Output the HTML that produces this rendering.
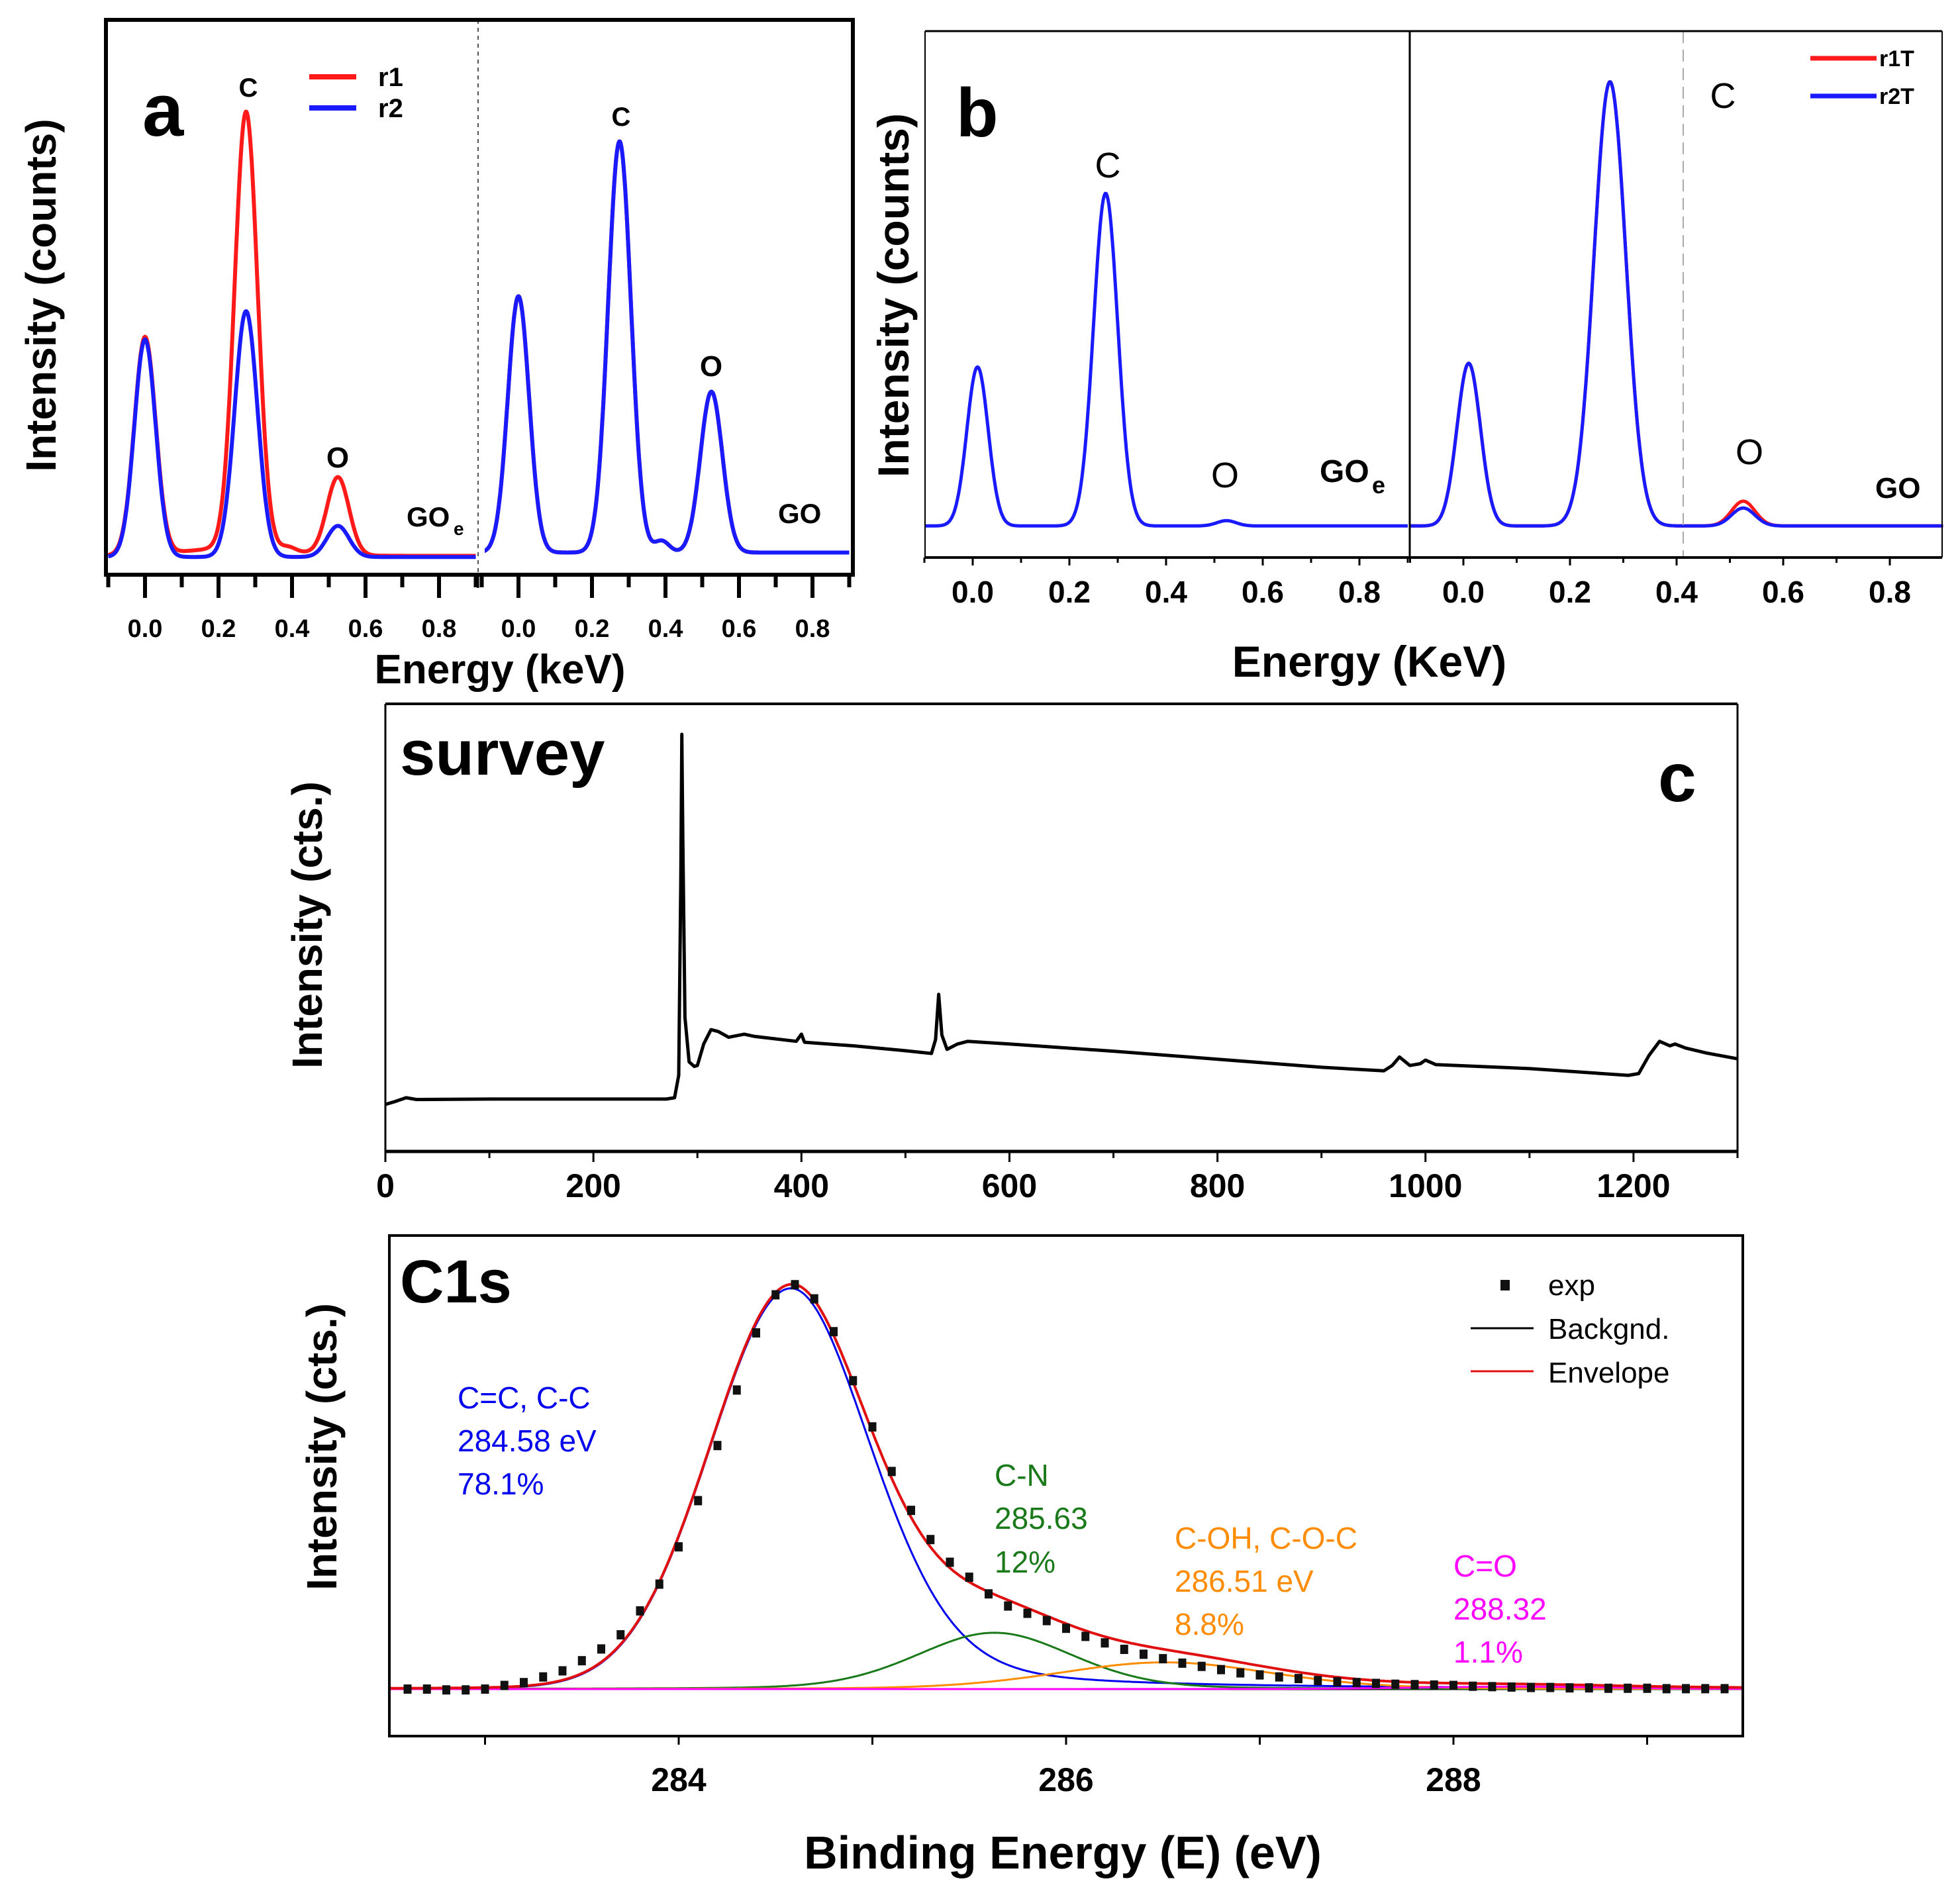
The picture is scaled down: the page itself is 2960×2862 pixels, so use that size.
<!DOCTYPE html>
<html><head><meta charset="utf-8"><style>
html,body{margin:0;padding:0;background:#fff;}
svg{display:block;font-family:"Liberation Sans",Arial,sans-serif;}
</style></head><body>
<svg id="fig" width="2960" height="2862" viewBox="0 0 2960 2862">
<rect width="2960" height="2862" fill="#fff"/>
</svg>
<script>
// ---------- Panel a data (EDS, keV) ----------
var aCenters = [0.0, 0.275, 0.39, 0.525];
var aLeftRed = [392, 787, 8, 140];
var aLeftBlue = [392, 443, 0, 56];
var aLeftRedBg = 14;
var aRightRed = [462, 741, 21, 290];
var aRightBlue = [462, 741, 21, 290];
var aSigmas = [0.029, 0.031, 0.02, 0.03];
var aTicks = ["0.0","0.2","0.4","0.6","0.8"];
// ---------- Panel b data ----------
var bCenters = [0.01, 0.275, 0.525];
var bLeftBlue = [302, 632, 10];
var bRightRed = [309, 844, 47];
var bRightBlue = [309, 844, 34];
var bSigmasL = [0.022, 0.025, 0.02];
var bSigmasR = [0.022, 0.03, 0.022];
// ---------- Panel c data (XPS survey) ----------
var cEnergy = [0,10,20,30,100,200,270,278,282,284,285,286,288,292,297,300,306,313,320,330,345,355,395,400,403,450,500,525,529,532,535,540,550,560,600,700,800,900,960,968,975,985,995,1000,1010,1100,1195,1205,1215,1225,1235,1240,1250,1270,1300];
var cCounts = [105,112,120,116,117,117,117,120,170,600,932,700,300,200,190,192,240,272,268,255,262,257,246,262,244,236,225,219,250,351,260,228,240,246,240,224,206,188,180,192,211,192,196,204,194,185,170,174,215,246,236,240,231,220,207];
var cTicks = [0,200,400,600,800,1000,1200];
// ---------- Panel d data (C1s) ----------
var dExpStart = 282.6, dExpStep = 0.1;
var dExp = [0,0,-0.2,-0.2,0,0.9,1.6,3.0,4.5,7.0,9.9,13.4,19.3,25.9,35.1,46.5,60.1,73.8,87.9,97.3,99.8,96.3,88.2,76.1,64.7,53.7,44.1,36.9,31.3,27.6,23.5,20.5,18.7,16.9,15.0,13.0,11.4,9.8,8.6,7.5,6.4,5.6,4.8,4.0,3.5,3.0,2.6,2.1,1.8,1.6,1.4,1.2,1.1,1.0,0.9,0.7,0.6,0.5,0.4,0.4,0.3,0.3,0.2,0.2,0.2,0.1,0.1,0.1,0.1];
var dCompCenters = [284.58, 285.63, 286.51, 288.32];
var dCompHeights = [98.9, 13.9, 6.6, 0.6];
var dCompFwhm = [0.98, 0.95, 1.3, 1.2];
var dCompColors = ["#0000ee","#1a7a1a","#ff8c00","#ff00ff"];
var dTicks = [284,286,288];

var NS="http://www.w3.org/2000/svg";
var svg=document.getElementById('fig');
function mk(tag,attrs,parent){var e=document.createElementNS(NS,tag);for(var k in attrs)e.setAttribute(k,attrs[k]);(parent||svg).appendChild(e);return e;}
function txt(s,x,y,size,opts,name){opts=opts||{};var a={x:x,y:y,'font-size':size,'font-weight':opts.w||'bold',fill:opts.fill||'#000','text-anchor':opts.anchor||'start'};if(opts.rot)a.transform='rotate(-90 '+x+' '+y+')';var t=mk('text',a);t.textContent=s;


return t;}
function line(x1,y1,x2,y2,w,col,name,dash){var l=mk('line',{x1:x1,y1:y1,x2:x2,y2:y2,stroke:col||'#000','stroke-width':w});if(dash)l.setAttribute('stroke-dasharray',dash);


return l;}
function gsum(x,c,h,s){var v=0;for(var i=0;i<c.length;i++){v+=h[i]*Math.exp(-0.5*Math.pow((x-c[i])/s[i],2));}return v;}
function peakPath(xs,ys,base,c,h,s,extra,col,w,name){var d='';for(var e=-0.1;e<=0.9001;e+=0.002){var v=base+gsum(e,c,h,s)+(extra?extra(e):0);d+=(d?'L':'M')+xs(e).toFixed(1)+','+ys(v).toFixed(1);}var p=mk('path',{d:d,fill:'none',stroke:col,'stroke-width':w,'stroke-linejoin':'round'});


return p;}

// ================= Panel a =================
(function(){
var L=160,R=1288,T=30,B=868,mid=722;
function ys(v){return 868-v*0.838;}
function xsL(e){return 219+e*555;}
function xsR(e){return 783+e*555;}
var bg=function(e){return aLeftRedBg*Math.exp(-0.5*Math.pow((e-0.25)/0.14,2));};
peakPath(xsL,ys,34,aCenters,aLeftRed,aSigmas,bg,'#ff1a1a',6,'a-left-r1-line');
peakPath(xsL,ys,32,aCenters,aLeftBlue,aSigmas,null,'#1a1aff',6,'a-left-r2-line');
peakPath(xsR,ys,40,aCenters,aRightRed,aSigmas,null,'#ff1a1a',6,'a-right-r1-line');
peakPath(xsR,ys,40,aCenters,aRightBlue,aSigmas,null,'#1a1aff',6,'a-right-r2-line');
mk('rect',{x:mid,y:T,width:10,height:B-T,fill:'#fff'});
line(mid,T,mid,B,2,'#555','a-divider','6,6');
var f=mk('rect',{x:L,y:T,width:R-L,height:B-T,fill:'none',stroke:'#000','stroke-width':6});

[xsL,xsR].forEach(function(xs,k){
 for(var i=-1;i<=9;i++){var e=i/10;var x=xs(e);if(x<L||x>R)continue;line(x,B,x,B+(i%2===0?35:19),6,'#000','a-tick');}
 aTicks.forEach(function(t){txt(t,xs(parseFloat(t)),962,38,{anchor:'middle'},'a-tick-label');});
});
line(mid,B,mid,B+20,3,'#000','a-split-tick');
txt('Intensity (counts)',84,446,64,{anchor:'middle',rot:1},'a-y-axis-title');
txt('Energy (keV)',755,1032,62,{anchor:'middle'},'a-x-axis-title');
txt('a',215,205,112,{},'a-panel-label');
txt('C',375,146,40,{anchor:'middle'},'a-label-c-left');
txt('O',510,706,44,{anchor:'middle'},'a-label-o-left');
txt('C',938,190,40,{anchor:'middle'},'a-label-c-right');
txt('O',1074,568,44,{anchor:'middle'},'a-label-o-right');
txt('GO',614,795,42,{},'a-label-goe');txt('e',685,808,28,{},'a-label-goe-sub');
txt('GO',1175,790,42,{},'a-label-go');
line(467,116,538,116,8,'#ff1a1a','legend-r1-line');txt('r1',571,130,40,{},'legend-r1-label');
line(467,163,538,163,8,'#1a1aff','legend-r2-line');txt('r2',571,177,40,{},'legend-r2-label');
})();

// ================= Panel b =================
(function(){
var L=1397,R=2933,T=47,B=842,mid=2129;
function ys(v){return 842-v*0.795;}
function xsL(e){return 1469+e*730;}
function xsR(e){return 2210+e*805;}
peakPath(xsL,ys,60,bCenters,bLeftBlue,bSigmasL,null,'#1a1aff',5,'b-left-r2t-line');
peakPath(xsR,ys,60,bCenters,bRightRed,bSigmasR,null,'#ff1a1a',5,'b-right-r1t-line');
peakPath(xsR,ys,60,bCenters,bRightBlue,bSigmasR,null,'#1a1aff',5,'b-right-r2t-line');
line(2542,T,2542,B,2,'#aaa','b-dashed-line','18,10');
line(L,T,R,T,3,'#000','b-frame-top');
line(L,T,L,B,2,'#000','b-frame-left');
line(R,T,R,B,2,'#000','b-frame-right');
line(mid,T,mid,B,3,'#000','b-divider');
line(L,B,R,B,4,'#000','b-x-axis');
[[xsL,L,mid],[xsR,mid,R]].forEach(function(p){
 var xs=p[0];
 for(var i=-1;i<=9;i++){var x=xs(i/10);if(x<p[1]-1||x>p[2]+1)continue;line(x,B,x,B+(i%2===0?12:8),3,'#000','b-tick');}
 aTicks.forEach(function(t){txt(t,xs(parseFloat(t)),910,46,{anchor:'middle'},'b-tick-label');});
});
txt('Intensity (counts)',1372,446,66,{anchor:'middle',rot:1},'b-y-axis-title');
txt('Energy (KeV)',2068,1022,66,{anchor:'middle'},'b-x-axis-title');
txt('b',1444,206,104,{},'b-panel-label');
txt('C',1673,268,54,{anchor:'middle',w:'normal'},'b-label-c-left');
txt('O',1850,736,54,{anchor:'middle',w:'normal'},'b-label-o-left');
txt('GO',1993,728,48,{},'b-label-goe');txt('e',2072,745,36,{},'b-label-goe-sub');
txt('C',2602,163,54,{anchor:'middle',w:'normal'},'b-label-c-right');
txt('O',2642,701,54,{anchor:'middle',w:'normal'},'b-label-o-right');
txt('GO',2832,752,44,{},'b-label-go');
line(2734,88,2834,88,7,'#ff1a1a','legend-r1t-line');txt('r1T',2838,100,34,{},'legend-r1t-label');
line(2734,145,2834,145,7,'#1a1aff','legend-r2t-line');txt('r2T',2838,157,34,{},'legend-r2t-label');
})();

// ================= Panel c =================
(function(){
var L=582,R=2624,T=1063,B=1739;
function xs(e){return L+e*(R-L)/1300;}
function ys(v){return B-v*0.676;}
var d='';for(var i=0;i<cEnergy.length;i++){d+=(i?'L':'M')+xs(cEnergy[i]).toFixed(1)+','+ys(cCounts[i]).toFixed(1);}
var p=mk('path',{d:d,fill:'none',stroke:'#000','stroke-width':5,'stroke-linejoin':'round'});

line(L,T,L,B,3,'#000','c-frame-left');line(R,T,R,B,3,'#000','c-frame-right');
line(L,T,R,T,4,'#000','c-frame-top');line(L,B,R,B,5,'#000','c-x-axis');
for(var e=0;e<=1300;e+=100){line(xs(e),B,xs(e),B+(e%200===0?16:10),3,'#000','c-tick');}
cTicks.forEach(function(t){txt(String(t),xs(t),1808,50,{anchor:'middle'},'c-tick-label');});
txt('Intensity (cts.)',486,1397,64,{anchor:'middle',rot:1},'c-y-axis-title');
txt('survey',604,1170,96,{},'c-survey-label');
txt('c',2504,1210,104,{},'c-panel-label');
})();

// ================= Panel d =================
(function(){
var L=588,R=2632,T=1866,B=2622,base=2551;
function xs(e){return 1025+(e-284)*292.5;}
function ys(v){return base-v*6.12;}
function comp(e,i){var c=dCompCenters[i],h=dCompHeights[i],w=dCompFwhm[i]/2;var g=Math.exp(-Math.LN2*Math.pow((e-c)/w,2));var l=1/(1+Math.pow((e-c)/w,2));var m=(i===0)?(e<c?0.02:0.25):0.2;return h*((1-m)*g+m*l);}
line(L,base,R,base,3,'#000','d-background-line');
for(var i=0;i<dCompCenters.length;i++){var d='';for(var e=282.5;e<=289.5;e+=0.01){d+=(d?'L':'M')+xs(e).toFixed(1)+','+ys(comp(e,i)).toFixed(1);}
 var p=mk('path',{d:d,fill:'none',stroke:dCompColors[i],'stroke-width':3});
 
 }
var d2='';for(var e=282.5;e<=289.5;e+=0.01){var v=0;for(var j=0;j<dCompCenters.length;j++)v+=comp(e,j);d2+=(d2?'L':'M')+xs(e).toFixed(1)+','+ys(v).toFixed(1);}
var env=mk('path',{d:d2,fill:'none',stroke:'#e01010','stroke-width':4});

dExp.forEach(function(v,k){var e=dExpStart+k*dExpStep;var r=mk('rect',{x:xs(e)-6,y:ys(v)-7,width:12,height:14,fill:'#111'});
 
 });
var f=mk('rect',{x:L,y:T,width:R-L,height:B-T,fill:'none',stroke:'#000','stroke-width':4});

for(var t=283;t<=289;t++){line(xs(t),B,xs(t),B+13,3,'#000','d-tick');}
dTicks.forEach(function(t){txt(String(t),xs(t),2705,50,{anchor:'middle'},'d-tick-label');});
txt('Binding Energy (E) (eV)',1605,2822,70,{anchor:'middle'},'d-x-axis-title');
txt('Intensity (cts.)',508,2185,64,{anchor:'middle',rot:1},'d-y-axis-title');
txt('C1s',604,1967,92,{},'d-c1s-label');
txt('C=C, C-C',691,2127,46,{w:'normal',fill:'#0000ee'},'d-label-cc');
txt('284.58 eV',691,2192,46,{w:'normal',fill:'#0000ee'},'d-label-cc-energy');
txt('78.1%',691,2257,46,{w:'normal',fill:'#0000ee'},'d-label-cc-percent');
txt('C-N',1502,2244,46,{w:'normal',fill:'#1a7a1a'},'d-label-cn');
txt('285.63',1502,2309,46,{w:'normal',fill:'#1a7a1a'},'d-label-cn-energy');
txt('12%',1502,2375,46,{w:'normal',fill:'#1a7a1a'},'d-label-cn-percent');
txt('C-OH, C-O-C',1774,2339,46,{w:'normal',fill:'#ff8c00'},'d-label-coh');
txt('286.51 eV',1774,2404,46,{w:'normal',fill:'#ff8c00'},'d-label-coh-energy');
txt('8.8%',1774,2469,46,{w:'normal',fill:'#ff8c00'},'d-label-coh-percent');
txt('C=O',2195,2381,46,{w:'normal',fill:'#ff00ff'},'d-label-co');
txt('288.32',2195,2446,46,{w:'normal',fill:'#ff00ff'},'d-label-co-energy');
txt('1.1%',2195,2511,46,{w:'normal',fill:'#ff00ff'},'d-label-co-percent');
var sq=mk('rect',{x:2266,y:1933,width:14,height:16,fill:'#111'});

txt('exp',2338,1956,44,{w:'normal'},'legend-exp-label');
line(2221,2006,2316,2006,3,'#000','legend-backgnd-line');txt('Backgnd.',2338,2022,44,{w:'normal'},'legend-backgnd-label');
line(2221,2071,2316,2071,3,'#e01010','legend-envelope-line');txt('Envelope',2338,2088,44,{w:'normal'},'legend-envelope-label');
})();
</script>
</body></html>
